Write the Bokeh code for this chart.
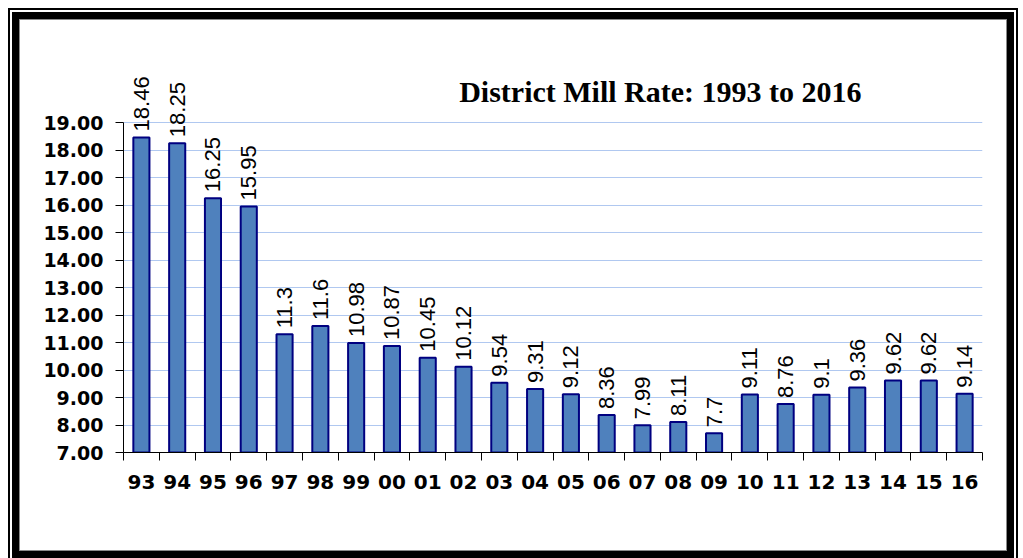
from bokeh.plotting import figure
from bokeh.layouts import column
from bokeh.models import (ColumnDataSource, Range1d, FixedTicker, PrintfTickFormatter, Label)
from bokeh.core.properties import value
from bokeh.embed import file_html
from bokeh.resources import INLINE

years = ["93", "94", "95", "96", "97", "98", "99", "00", "01", "02", "03", "04",
         "05", "06", "07", "08", "09", "10", "11", "12", "13", "14", "15", "16"]
rates = [18.46, 18.25, 16.25, 15.95, 11.3, 11.6, 10.98, 10.87, 10.45, 10.12, 9.54, 9.31,
         9.12, 8.36, 7.99, 8.11, 7.7, 9.11, 8.76, 9.1, 9.36, 9.62, 9.62, 9.14]
y_ticks = [7, 8, 9, 10, 11, 12, 13, 14, 15, 16, 17, 18, 19]
title_text = "District Mill Rate: 1993 to 2016"

W, H = 986, 530
n = len(years)
centers = [i + 0.5 for i in range(n)]
bounds = list(range(n + 1))

src = ColumnDataSource(dict(x=centers, top=rates, lab=[str(v) for v in rates]))

y_top = 21.62  # extra headroom above the 19.00 line for the value labels and title
p = figure(width=W, height=H, output_backend="svg", toolbar_location=None,
           x_range=Range1d(0, n), y_range=Range1d(y_ticks[0], y_top),
           min_border_left=103, min_border_right=24, min_border_top=30,
           min_border_bottom=98, background_fill_color="white",
           border_fill_color="white", outline_line_color=None,
           styles={"box-shadow": "0 0 0 1px #8a8a8a"})

p.vbar(x="x", top="top", bottom=y_ticks[0], width=0.45, source=src,
       fill_color="#4F81BD", line_color="#000080", line_width=2)

p.text(x="x", y="top", text="lab", source=src, angle=1.5708,
       text_align="left", text_baseline="middle", y_offset=-6,
       text_font=value("Liberation Sans"), text_font_size="22px",
       text_color="black")

# axes
xa = p.xaxis[0]
xa.ticker = FixedTicker(ticks=centers, minor_ticks=bounds)
xa.major_label_overrides = {c: y for c, y in zip(centers, years)}
xa.major_tick_out = 0
xa.major_tick_in = 0
xa.minor_tick_out = 8
xa.minor_tick_in = 0
xa.minor_tick_line_color = "black"
xa.axis_line_color = "black"
xa.major_label_text_font = "DejaVu Sans"
xa.major_label_text_font_style = "bold"
xa.major_label_text_font_size = "20px"
xa.major_label_text_color = "black"
xa.major_label_standoff = 14

ya = p.yaxis[0]
ya.ticker = FixedTicker(ticks=y_ticks)
ya.bounds = (y_ticks[0], y_ticks[-1])
ya.formatter = PrintfTickFormatter(format="%.2f")
ya.major_tick_out = 8
ya.major_tick_in = 0
ya.minor_tick_out = 0
ya.minor_tick_in = 0
ya.major_tick_line_color = "black"
ya.axis_line_color = "black"
ya.major_label_text_font = "DejaVu Sans"
ya.major_label_text_font_style = "bold"
ya.major_label_text_font_size = "19px"
ya.major_label_text_color = "black"
ya.major_label_standoff = 12

p.xgrid.grid_line_color = None
p.ygrid.ticker = FixedTicker(ticks=y_ticks)
p.ygrid.grid_line_color = "#b0c8f0"
p.ygrid.grid_line_width = 1

# title
p.add_layout(Label(x=15.0, y=20.13, text=title_text, text_align="center",
                   text_baseline="alphabetic", text_font="Liberation Serif",
                   text_font_style="bold", text_font_size="30px", text_color="black"))

layout = column(p, styles={"border": "8px solid black",
                           "outline": "2px solid black",
                           "outline-offset": "2px",
                           "margin": "12px 0px 0px 12px"})

open("out.html", "w").write(file_html(layout, INLINE))
